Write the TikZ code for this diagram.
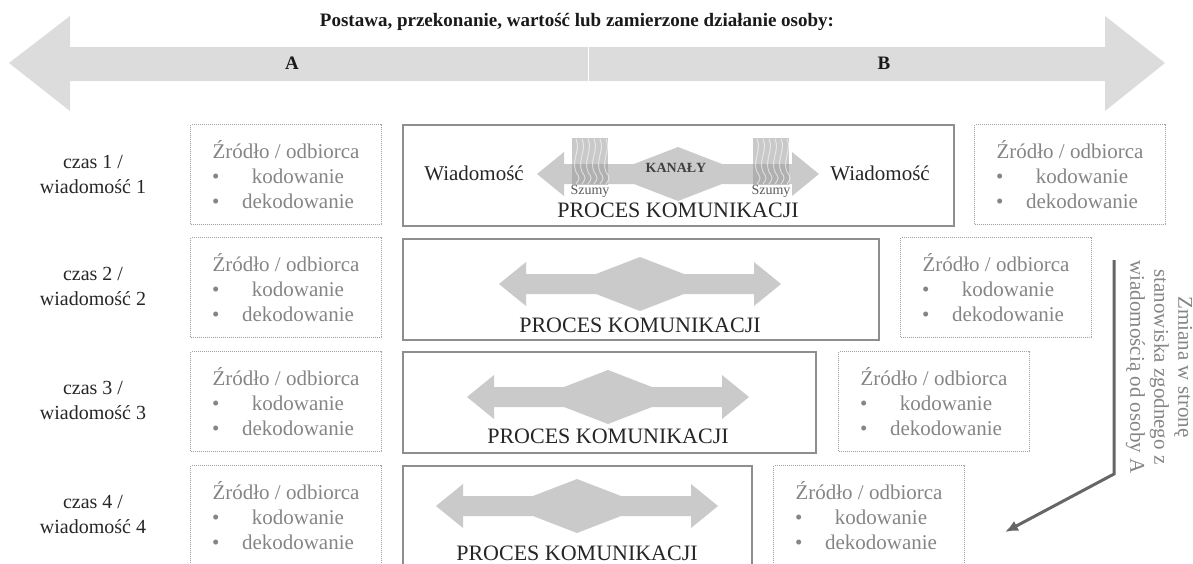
\documentclass[tikz,border=0pt]{standalone}
\usepackage{fontspec}
\setmainfont{Liberation Serif}
\usetikzlibrary{arrows.meta,calc,positioning}
\definecolor{bandGray} {HTML}{DCDCDC}
\definecolor{chanGray} {HTML}{CACACA}
\definecolor{noiseGray}{HTML}{9C9C9C}
\definecolor{boxGray}  {HTML}{8E8E8E}
\definecolor{dotGray}  {HTML}{A0A0A0}
\definecolor{roleGray} {HTML}{858585}
\definecolor{shiftGray}{HTML}{666666}
\newcommand{\roleText}{\'Zr\'od\l{}o / odbiorca\\
  \makebox[24pt][l]{\textbullet}\makebox[124pt]{kodowanie}\\
  \makebox[24pt][l]{\textbullet}\makebox[124pt]{dekodowanie}}
\tikzset{
  font=\fontsize{20}{25}\selectfont,
  title/.style={font=\bfseries\fontsize{19}{22}\selectfont,text=black!90},
  side/.style={font=\bfseries\fontsize{19}{22}\selectfont,text=black!90},
  rowlabel/.style={align=center,text=black!85},
  rolebox/.style={rectangle,draw=dotGray,dash pattern=on 1pt off 1pt,line width=1pt,
    minimum width=191pt,minimum height=100pt,anchor=north west,align=center,
    text=roleGray,inner sep=0pt,font=\fontsize{21}{25}\selectfont},
  procbox/.style={rectangle,draw=boxGray,line width=1.6pt,minimum height=101pt,
    anchor=north west,inner sep=0pt},
  proclabel/.style={text=black!85,font=\fontsize{22}{25}\selectfont},
  msg/.style={text=black!85,font=\fontsize{21}{25}\selectfont},
  chan/.style={fill=chanGray},
  noise/.style={fill=noiseGray,opacity=.55},
  wave/.style={draw=white,opacity=.55,line width=1pt},
  small/.style={font=\fontsize{14}{16}\selectfont,text=black!65},
  kanal/.style={font=\bfseries\fontsize{14}{16}\selectfont,text=black!75},
  shiftline/.style={draw=shiftGray,line width=3pt,-{Latex[length=13pt,width=11pt]}},
  shiftnote/.style={align=center,text=roleGray,rotate=-90,font=\fontsize{21}{24}\selectfont},
}
\begin{document}
\begin{tikzpicture}[x=1pt,y=-1pt]
\useasboundingbox (0,0) rectangle (1193,563);

% big band A <-> B
\fill[bandGray] (9,63) -- (70,16) -- (70,47) -- (1105,47) -- (1105,16) -- (1165,63)
  -- (1105,111) -- (1105,81) -- (70,81) -- (70,111) -- cycle;
\draw[white,line width=1pt] (588,47) -- (588,81);
\node[title] (band) at (577,22) {Postawa, przekonanie, warto\'s\'c lub zamierzone dzia\l{}anie osoby:};
\node[side] (sideA) at (292,63) {A};
\node[side] (sideB) at (884,63) {B};

% row labels
\node[rowlabel] (t1) at (93,174) {czas 1 /\\wiadomo\'s\'c 1};
\node[rowlabel] (t2) at (93,286) {czas 2 /\\wiadomo\'s\'c 2};
\node[rowlabel] (t3) at (93,400) {czas 3 /\\wiadomo\'s\'c 3};
\node[rowlabel] (t4) at (93,514) {czas 4 /\\wiadomo\'s\'c 4};

% source / receiver A
\node[rolebox] (srcA1) at (190,124) {\roleText};
\node[rolebox] (srcA2) at (190,237) {\roleText};
\node[rolebox] (srcA3) at (190,351) {\roleText};
\node[rolebox] (srcA4) at (190,465) {\roleText};

% communication process boxes
\node[procbox,minimum width=551pt] (proc1) at (402,124) {};
\node[procbox,minimum width=476pt] (proc2) at (402,238) {};
\node[procbox,minimum width=413pt] (proc3) at (402,351) {};
\node[procbox,minimum width=349pt] (proc4) at (402,465) {};

% source / receiver B, moving towards A
\node[rolebox] (srcB1) at (974,124) {\roleText};
\node[rolebox] (srcB2) at (900,237) {\roleText};
\node[rolebox] (srcB3) at (838,351) {\roleText};
\node[rolebox] (srcB4) at (773,465) {\roleText};

% channel arrows
\coordinate (ch1) at (678,174);
\coordinate (ch2) at (640,284);
\coordinate (ch3) at (608,397);
\coordinate (ch4) at (577,506);
\fill[chan,shift={(ch1)}] (-141,0) -- (-114,-22) -- (-114,-10) -- (-44,-10) -- (0,-27) -- (44,-10) -- (114,-10) -- (114,-22) -- (141,0) -- (114,22) -- (114,10) -- (44,10) -- (0,27) -- (-44,10) -- (-114,10) -- (-114,22) -- cycle;
\fill[chan,shift={(ch2)}] (-141,0) -- (-114,-22) -- (-114,-10) -- (-44,-10) -- (0,-27) -- (44,-10) -- (114,-10) -- (114,-22) -- (141,0) -- (114,22) -- (114,10) -- (44,10) -- (0,27) -- (-44,10) -- (-114,10) -- (-114,22) -- cycle;
\fill[chan,shift={(ch3)}] (-141,0) -- (-114,-22) -- (-114,-10) -- (-44,-10) -- (0,-27) -- (44,-10) -- (114,-10) -- (114,-22) -- (141,0) -- (114,22) -- (114,10) -- (44,10) -- (0,27) -- (-44,10) -- (-114,10) -- (-114,22) -- cycle;
\fill[chan,shift={(ch4)}] (-141,0) -- (-114,-22) -- (-114,-10) -- (-44,-10) -- (0,-27) -- (44,-10) -- (114,-10) -- (114,-22) -- (141,0) -- (114,22) -- (114,10) -- (44,10) -- (0,27) -- (-44,10) -- (-114,10) -- (-114,22) -- cycle;

% noise on the channel
\fill[noise] (572,138) rectangle (608,185);
\fill[noise] (753,138) rectangle (789,185);
\foreach \wx in {576,582,...,606}{
  \draw[wave] (\wx,139) .. controls (\wx+5,150) and (\wx-5,160) .. (\wx,172) .. controls (\wx+4,178) .. (\wx,184);
  \draw[wave] (\wx+181,139) .. controls (\wx+186,150) and (\wx+176,160) .. (\wx+181,172) .. controls (\wx+185,178) .. (\wx+181,184);
}
\node[small] (noiseL) at (590,191) {Szumy};
\node[small] (noiseR) at (771,191) {Szumy};
\node[kanal] (kanaly) at (676,168) {KANAŁY};
\node[msg] (msgA) at (474,173) {Wiadomo\'s\'c};
\node[msg] (msgB) at (880,173) {Wiadomo\'s\'c};

% process labels
\node[proclabel] (lab1) at (678,210) {PROCES KOMUNIKACJI};
\node[proclabel] (lab2) at (640,325) {PROCES KOMUNIKACJI};
\node[proclabel] (lab3) at (608,436) {PROCES KOMUNIKACJI};
\node[proclabel] (lab4) at (577,553) {PROCES KOMUNIKACJI};

% shift of B towards A
\coordinate (shiftTop)  at (1114,260);
\coordinate (shiftBend) at (1114,474);
\coordinate (shiftEnd)  at (1005,532);
\draw[shiftline] (shiftTop) -- (shiftBend) -- (shiftEnd);
\node[shiftnote] (shiftText) at (1159,367)
  {Zmiana w stron\k{e}\\stanowiska zgodnego z\\wiadomo\'sci\k{a} od osoby A};

\end{tikzpicture}
\end{document}
